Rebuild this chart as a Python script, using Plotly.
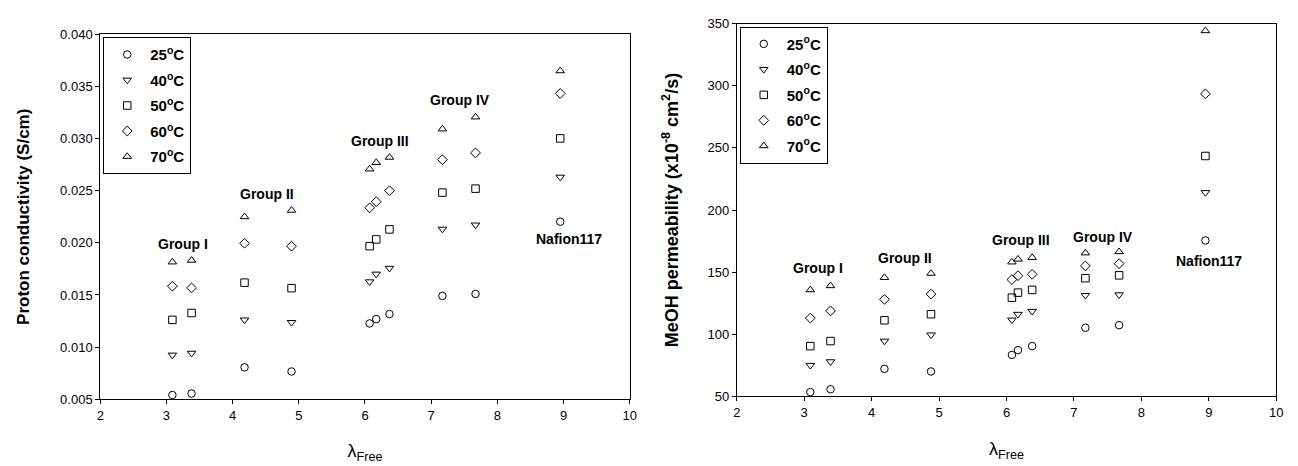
import plotly.graph_objects as go

# ---- data ----
temps = ["25", "40", "50", "60", "70"]
symbols = ["circle-open", "triangle-down-open", "square-open", "diamond-open", "triangle-up-open"]

# Proton conductivity (left)
x_cond = [3.09, 3.38, 4.18, 4.89, 6.07, 6.17, 6.37, 7.17, 7.67, 8.95]
cond_25 = [0.0054, 0.00555, 0.00806, 0.00766, 0.01227, 0.01268, 0.01317, 0.01491, 0.0151, 0.02203]
cond_40 = [0.00924, 0.00942, 0.01261, 0.01237, 0.01627, 0.01701, 0.01757, 0.02132, 0.02172, 0.02631]
cond_50 = [0.01261, 0.01327, 0.01618, 0.01565, 0.01968, 0.02033, 0.02129, 0.02482, 0.0252, 0.03002]
cond_60 = [0.01584, 0.01568, 0.01996, 0.01968, 0.02336, 0.02395, 0.025, 0.02798, 0.02863, 0.03433]
cond_70 = [0.01816, 0.01832, 0.0225, 0.02312, 0.02708, 0.0277, 0.0282, 0.03092, 0.03207, 0.0365]

# MeOH permeability (right)
x_perm = [3.09, 3.39, 4.19, 4.88, 6.08, 6.17, 6.38, 7.17, 7.67, 8.95]
perm_25 = [53.4, 55.7, 72.1, 70.0, 83.3, 87.2, 90.4, 105.2, 107.3, 175.5]
perm_40 = [75.0, 77.9, 94.5, 99.5, 111.5, 116.1, 118.5, 131.3, 131.8, 214.1]
perm_50 = [90.4, 94.5, 111.2, 116.1, 129.4, 133.5, 135.7, 145.1, 147.4, 243.5]
perm_60 = [113.0, 118.8, 128.1, 132.3, 144.0, 147.1, 148.2, 155.0, 156.8, 293.5]
perm_70 = [135.7, 139.0, 145.6, 149.0, 158.1, 160.4, 161.7, 165.4, 166.4, 344.3]

group_labels = ["Group I", "Group II", "Group III", "Group IV", "Nafion117"]
cond_label_x = [3.25, 4.52, 6.22, 7.43, 9.09]
cond_label_y = [0.0199, 0.0247, 0.0298, 0.0337, 0.0204]
perm_label_x = [3.2, 4.49, 6.21, 7.43, 9.0]
perm_label_y = [153, 161.5, 176, 178, 158.6]

FONT = "Arial, Liberation Sans, sans-serif"

fig = go.Figure()

cond_series = [cond_25, cond_40, cond_50, cond_60, cond_70]
perm_series = [perm_25, perm_40, perm_50, perm_60, perm_70]

for t, s, ys in zip(temps, symbols, cond_series):
    fig.add_trace(go.Scatter(
        x=x_cond, y=ys, mode="markers", name=f"<b>{t}<sup>o</sup>C</b>",
        legendgroup=f"c{t}",
        marker=dict(symbol=s, size=7.5, color="black", line=dict(width=1, color="black")),
        xaxis="x", yaxis="y", legend="legend"))

for t, s, ys in zip(temps, symbols, perm_series):
    fig.add_trace(go.Scatter(
        x=x_perm, y=ys, mode="markers", name=f"<b>{t}<sup>o</sup>C</b>",
        legendgroup=f"p{t}",
        marker=dict(symbol=s, size=7.5, color="black", line=dict(width=1, color="black")),
        xaxis="x2", yaxis="y2", legend="legend2"))

annotations = []
for lab, ax_, ay in zip(group_labels, cond_label_x, cond_label_y):
    annotations.append(dict(x=ax_, y=ay, xref="x", yref="y", text=f"<b>{lab}</b>",
                            showarrow=False, font=dict(size=14, family=FONT, color="black")))
for lab, ax_, ay in zip(group_labels, perm_label_x, perm_label_y):
    annotations.append(dict(x=ax_, y=ay, xref="x2", yref="y2", text=f"<b>{lab}</b>",
                            showarrow=False, font=dict(size=14, family=FONT, color="black")))

axis_common = dict(showline=True, linecolor="black", linewidth=1, mirror=True,
                   ticks="outside", ticklen=4, tickcolor="black", showgrid=False,
                   zeroline=False, tickfont=dict(size=13, family=FONT, color="black"))

legend_common = dict(xanchor="left", yanchor="top", bgcolor="white",
                     bordercolor="black", borderwidth=1,
                     font=dict(size=15, family=FONT, color="black"),
                     tracegroupgap=3, itemwidth=36)

fig.update_layout(
    width=1298, height=466,
    margin=dict(l=0, r=0, t=0, b=0),
    paper_bgcolor="white", plot_bgcolor="white",
    font=dict(family=FONT, color="black"),
    annotations=annotations,
    xaxis=dict(domain=[89/1298, 623/1298], range=[2, 10], dtick=1, anchor="y",
               title=dict(text="λ<sub>Free</sub>", font=dict(size=18, family=FONT), standoff=22),
               **axis_common),
    yaxis=dict(domain=[1-397/466, 1-20/466], range=[0.005, 0.040], dtick=0.005,
               tickformat=".3f", anchor="x",
               title=dict(text="<b>Proton conductivity (S/cm)</b>", font=dict(size=17, family=FONT), standoff=26),
               **axis_common),
    xaxis2=dict(domain=[731/1298, 1275/1298], range=[2, 10], dtick=1, anchor="y2",
                title=dict(text="λ<sub>Free</sub>", font=dict(size=18, family=FONT), standoff=23),
                **axis_common),
    yaxis2=dict(domain=[1-394/466, 1-9/466], range=[50, 350], dtick=50, anchor="x2",
                title=dict(text="<b>MeOH permeability (x10<sup>-8</sup> cm<sup>2</sup>/s)</b>",
                           font=dict(size=18, family=FONT), standoff=24),
                **axis_common),
    legend=dict(x=92/1298, y=1-23/466, **legend_common),
    legend2=dict(x=734/1298, y=1-12/466, **legend_common),
)

fig.write_html("out.html")
